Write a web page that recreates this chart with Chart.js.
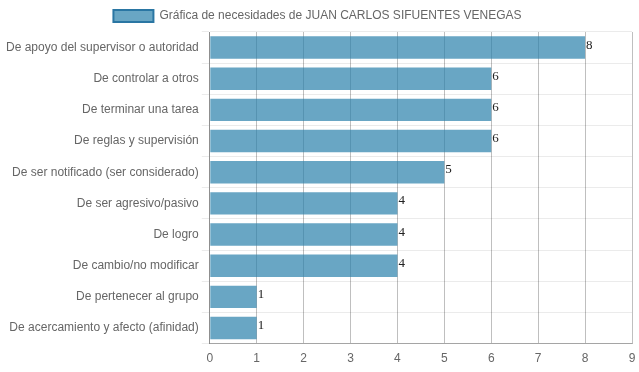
<!DOCTYPE html>
<html>
<head>
<meta charset="utf-8">
<script src="https://cdn.jsdelivr.net/npm/chart.js@4"></script>
<style>
html,body{margin:0;padding:0;background:#fff;}
#wrap{width:639px;height:372px;position:relative;}
</style>
</head>
<body>
<div id="wrap"><canvas id="c"></canvas></div>
<script>
const categories = [
  "De apoyo del supervisor o autoridad",
  "De controlar a otros",
  "De terminar una tarea",
  "De reglas y supervisión",
  "De ser notificado (ser considerado)",
  "De ser agresivo/pasivo",
  "De logro",
  "De cambio/no modificar",
  "De pertenecer al grupo",
  "De acercamiento y afecto (afinidad)"
];
const values = [8, 6, 6, 6, 5, 4, 4, 4, 1, 1];
const seriesName = "Gráfica de necesidades de JUAN CARLOS SIFUENTES VENEGAS";
const xTicks = [0, 1, 2, 3, 4, 5, 6, 7, 8, 9];

const valueLabels = {
  id: 'valueLabels',
  afterDatasetsDraw(chart) {
    const ctx = chart.ctx;
    const meta = chart.getDatasetMeta(0);
    ctx.save();
    ctx.font = '13px "Liberation Serif", "DejaVu Serif", serif';
    ctx.fillStyle = '#222';
    ctx.textAlign = 'left';
    ctx.textBaseline = 'alphabetic';
    meta.data.forEach((bar, i) => {
      ctx.fillText(String(values[i]), bar.x + 1, bar.y + 1);
    });
    ctx.restore();
  }
};

new Chart(document.getElementById('c'), {
  type: 'bar',
  data: {
    labels: categories,
    datasets: [{
      label: seriesName,
      data: values,
      backgroundColor: 'rgba(42,128,171,0.7)',
      borderColor: 'rgb(42,118,163)',
      borderWidth: 0
    }]
  },
  options: {
    indexAxis: 'y',
    responsive: true,
    maintainAspectRatio: false,
    animation: false,
    layout: { padding: { right: 7, left: 3, bottom: 6 } },
    font: { family: '"Liberation Sans", Arial, sans-serif', size: 12 },
    plugins: {
      legend: {
        display: true,
        position: 'top',
        labels: {
          color: '#666',
          font: { family: '"Liberation Sans", Arial, sans-serif', size: 12 },
          boxWidth: 40,
          generateLabels(chart) {
            const items = Chart.defaults.plugins.legend.labels.generateLabels(chart);
            items.forEach(it => { it.lineWidth = 2; it.strokeStyle = 'rgb(42,118,163)'; });
            return items;
          }
        }
      },
      tooltip: { enabled: false }
    },
    scales: {
      x: {
        min: 0,
        max: 9,
        afterBuildTicks(scale) { scale.ticks = xTicks.map(v => ({ value: v })); },
        grid: { color: 'rgba(0,0,0,0.25)', tickColor: 'rgba(0,0,0,0)' },
        border: { color: 'rgba(0,0,0,0.3)' },
        ticks: { color: '#666', padding: 0, font: { family: '"Liberation Sans", Arial, sans-serif', size: 12 } }
      },
      y: {
        grid: { color: 'rgba(0,0,0,0.08)' },
        border: { color: 'rgba(0,0,0,0.25)' },
        ticks: { color: '#666', font: { family: '"Liberation Sans", Arial, sans-serif', size: 12 } }
      }
    }
  },
  plugins: [valueLabels]
});
</script>
</body>
</html>
